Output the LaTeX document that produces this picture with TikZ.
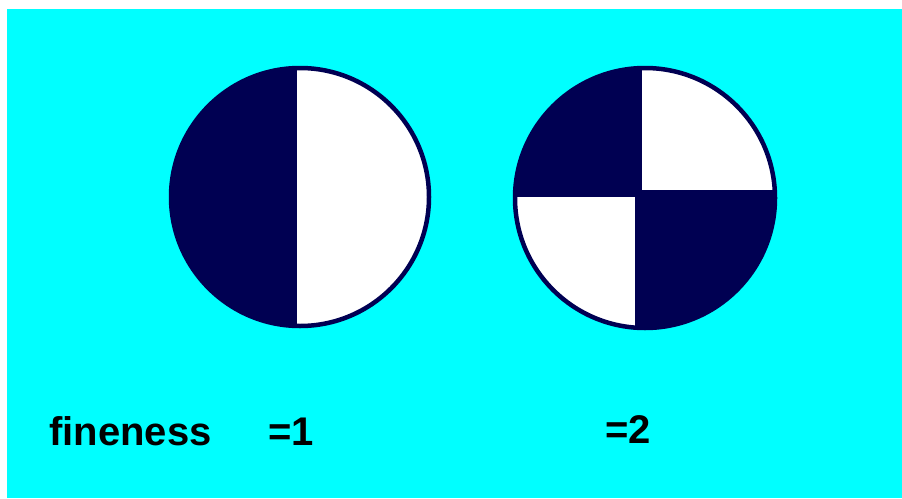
\documentclass[tikz,border=0pt]{standalone}
\usepackage{fontspec}
\newfontfamily\finefont{Liberation Sans}
\definecolor{skycyan}{RGB}{0,255,255}
\definecolor{disknavy}{RGB}{0,0,82}
\tikzset{
  finetext/.style={font=\finefont\bfseries\fontsize{40}{42}\selectfont, text=black, inner sep=0pt, anchor=base west},
  rim/.style={draw=disknavy, line width=4.5pt}
}
\begin{document}
\begin{tikzpicture}[x=1pt, y=-1pt, line cap=round, line join=round]
    \useasboundingbox (0,0) rectangle (902,498);
    \fill[white] (0,0) rectangle (902,498);
    \fill[skycyan] (7,9) rectangle (902,498);
    % fineness 1: two halves
    \fill[disknavy] (300,197) circle[radius=129pt];
    \begin{scope}
      \clip (300,197) circle[radius=129pt];
      \fill[white] (297,60) rectangle (440,340);
    \end{scope}
    \draw[rim] (300,197) circle[radius=129pt];
    % fineness 2: four quarters
    \fill[disknavy] (645,198) circle[radius=130pt];
    \begin{scope}
      \clip (645,198) circle[radius=130pt];
      \fill[white] (642,60) rectangle (790,190);
      \fill[white] (500,197) rectangle (635,340);
    \end{scope}
    \draw[rim] (645,198) circle[radius=130pt];
    \node[finetext] (fine) at (49,445) {fineness};
    \node[finetext] (one) at (268,445) {=1};
    \node[finetext] (two) at (605,443) {=2};
  \end{tikzpicture}
\end{document}
